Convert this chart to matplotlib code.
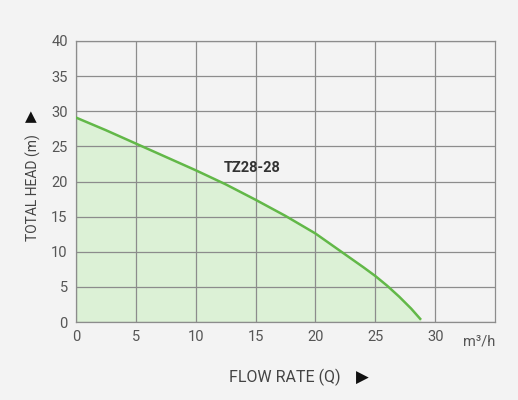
import matplotlib.pyplot as plt
import numpy as np

# Pump curve TZ28-28
flow = [0, 2.5, 5, 7.5, 10, 12.5, 15, 17.5, 20, 22, 24, 25, 26, 27, 28, 28.75]
head = [29.1, 27.3, 25.4, 23.5, 21.6, 19.6, 17.4, 15.1, 12.6, 10.2, 7.8, 6.55, 5.15, 3.6, 1.9, 0.45]
x_ticks = [0, 5, 10, 15, 20, 25, 30]
y_ticks = [0, 5, 10, 15, 20, 25, 30, 35, 40]
model = "TZ28-28"

plt.rcParams['font.family'] = ['Roboto', 'DejaVu Sans']
bg = '#f3f3f3'
grid_c = '#8c8c8c'
txt_c = '#555555'

fig = plt.figure(figsize=(5.18, 4.0), dpi=100, facecolor=bg)
ax = fig.add_axes([76/518, 1 - 322/400, (495 - 76)/518, (322 - 41)/400])
ax.set_facecolor(bg)

#Data Plotting
ax.fill_between(flow, head, 0, color='#dcf1d6', zorder=1)
ax.plot(flow, head, color='#62b848', linewidth=1.8, zorder=3)

#Plot Setup
ax.set_xlim(0, 35)
ax.set_ylim(0, 40)
ax.set_xticks(x_ticks)
ax.set_yticks(y_ticks)
ax.tick_params(length=0, labelsize=10.5, labelcolor=txt_c, pad=6)
ax.grid(True, color=grid_c, linewidth=0.9, zorder=2)
ax.set_axisbelow(False)
for s in ax.spines.values():
    s.set_color(grid_c)
    s.set_linewidth(0.9)

ax.text(35, -2.75, "m³/h", ha='right', va='center', fontsize=10.5, color=txt_c)
ax.text(14.75, 21.9, model, ha='center', va='center', fontsize=10.5,
        fontweight='bold', color='#333333', zorder=4)

# axis titles with arrow marks
fig.text(285/518, 1 - 377/400, "FLOW RATE (Q)", ha='center', va='center',
         fontsize=11.5, color='#444444')
fig.text(362/518, 1 - 378/400, "▶", ha='center', va='center',
         fontsize=12, color='#111111', family=['DejaVu Sans'])
fig.text(33/518, 1 - 188/400, "TOTAL HEAD (m)", ha='center', va='center',
         rotation=90, fontsize=10, color='#444444')
fig.text(31/518, 1 - 117/400, "▲", ha='center', va='center',
         fontsize=11, color='#111111', family=['DejaVu Sans'])

#Saving Figure
fig.savefig("out.png", dpi=100, facecolor=bg)
